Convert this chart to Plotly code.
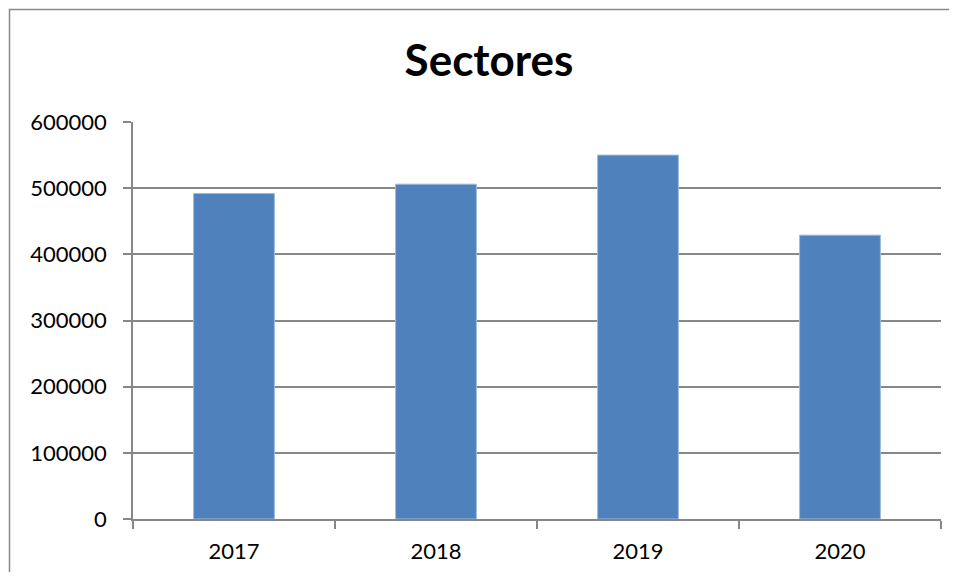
import plotly.graph_objs as go

years = ['2017', '2018', '2019', '2020']
values = [492000, 506000, 550000, 429000]
y_ticks = [0, 100000, 200000, 300000, 400000, 500000, 600000]

# page has an 8px body margin on every side, keep the figure inside the window
OFF = 8
W, H = 957 - 2 * OFF, 580 - 2 * OFF
# plot area in page pixels: x 133..941, y 122..519
L, T = 133 - OFF, 122 - OFF
R, B = W - (941 - OFF), H - (519 - OFF)
pw, ph = W - L - R, H - T - B


def px_x(p):
    return (p - OFF - L) / pw


def px_y(p):
    return (H - B - (p - OFF)) / ph


# outer chart border: only the left and top edges are inside the picture
bx0, by0 = px_x(9.5), px_y(9.5)
bx1, by1 = px_x(990), px_y(620)
border_path = f'M {bx0},{by1} L {bx0},{by0} L {bx1},{by0}'

fig = go.Figure(go.Bar(
    x=years,
    y=values,
    marker=dict(color='#4F81BD', line=dict(color='#9fbadb', width=1)),
    width=0.4,
))

fig.update_layout(
    title=dict(text='<b>Sectores</b>', x=px_x(489), xref='paper', xanchor='center',
               y=1 - (61 - OFF) / H, yanchor='middle',
               font=dict(family='Lato', size=44, color='black')),
    width=W, height=H,
    margin=dict(l=L, r=R, t=T, b=B),
    plot_bgcolor='white',
    paper_bgcolor='white',
    font=dict(family='Lato', size=22, color='black'),
    showlegend=False,
    bargap=0.6,
    shapes=[dict(type='path', xref='paper', yref='paper', path=border_path,
                 line=dict(color='#888888', width=1.5), fillcolor='rgba(0,0,0,0)')],
)

fig.update_xaxes(
    type='category',
    showline=True, linecolor='#878787', linewidth=1.5,
    ticks='outside', tickson='boundaries', ticklen=8, tickcolor='#878787', tickwidth=1.5,
    showgrid=False,
    ticklabelstandoff=12,
)
fig.update_yaxes(
    range=[0, 600000],
    tickvals=y_ticks,
    ticktext=[str(v) for v in y_ticks],
    showline=True, linecolor='#878787', linewidth=1.5,
    ticks='outside', ticklen=8, tickcolor='#878787', tickwidth=1.5,
    showgrid=True, gridcolor='#878787', gridwidth=1.5,
    zeroline=False,
    ticklabelstandoff=12,
)

fig.write_html("out.html")
